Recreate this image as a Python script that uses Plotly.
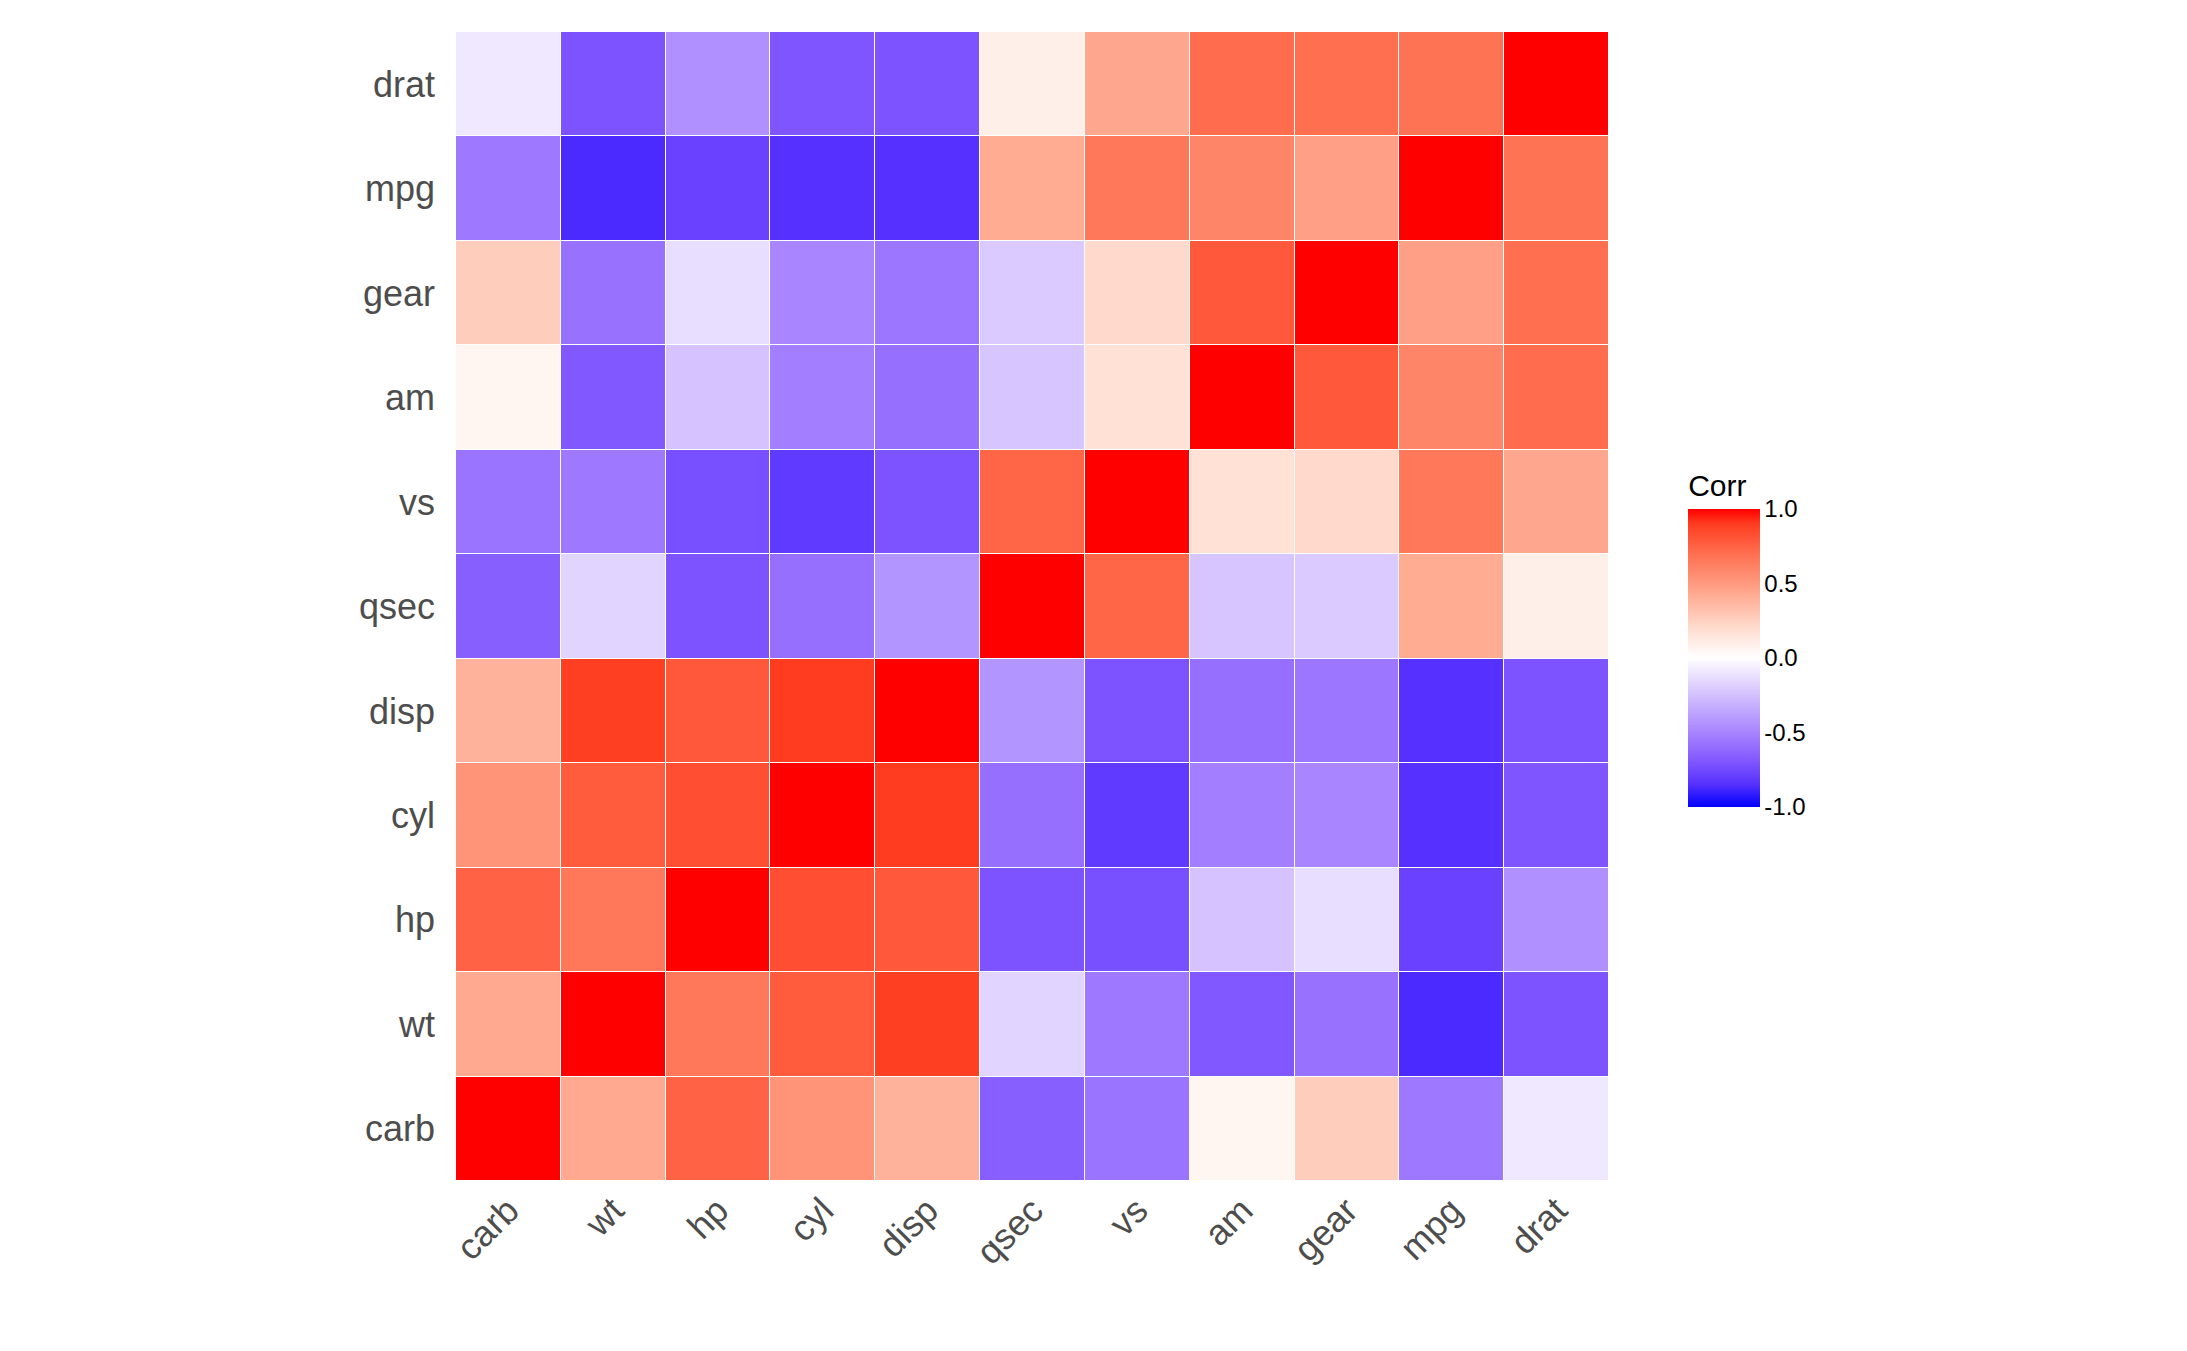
import plotly.graph_objects as go

# hierarchically ordered variables (mtcars)
vars_ = ['carb', 'wt', 'hp', 'cyl', 'disp', 'qsec', 'vs', 'am', 'gear', 'mpg', 'drat']

# correlation rows in the same order as vars_
carb = [1.00, 0.43, 0.75, 0.53, 0.39, -0.66, -0.57, 0.06, 0.27, -0.55, -0.09]
wt   = [0.43, 1.00, 0.66, 0.78, 0.89, -0.17, -0.55, -0.69, -0.58, -0.87, -0.71]
hp   = [0.75, 0.66, 1.00, 0.83, 0.79, -0.71, -0.72, -0.24, -0.13, -0.78, -0.45]
cyl  = [0.53, 0.78, 0.83, 1.00, 0.90, -0.59, -0.81, -0.52, -0.49, -0.85, -0.70]
disp = [0.39, 0.89, 0.79, 0.90, 1.00, -0.43, -0.71, -0.59, -0.56, -0.85, -0.71]
qsec = [-0.66, -0.17, -0.71, -0.59, -0.43, 1.00, 0.74, -0.23, -0.21, 0.42, 0.09]
vs   = [-0.57, -0.55, -0.72, -0.81, -0.71, 0.74, 1.00, 0.17, 0.21, 0.66, 0.44]
am   = [0.06, -0.69, -0.24, -0.52, -0.59, -0.23, 0.17, 1.00, 0.79, 0.60, 0.71]
gear = [0.27, -0.58, -0.13, -0.49, -0.56, -0.21, 0.21, 0.79, 1.00, 0.48, 0.70]
mpg  = [-0.55, -0.87, -0.78, -0.85, -0.85, 0.42, 0.66, 0.60, 0.48, 1.00, 0.68]
drat = [-0.09, -0.71, -0.45, -0.70, -0.71, 0.09, 0.44, 0.71, 0.70, 0.68, 1.00]

z = [carb, wt, hp, cyl, disp, qsec, vs, am, gear, mpg, drat]

cscale = [[0.0, '#0000FF'], [0.075, '#5530FF'], [0.15, '#7F55FF'], [0.225, '#9E78FF'],
          [0.4, '#DCCCFF'], [0.5, '#FFFFFF'], [0.6, '#FFDCCF'], [0.7, '#FFB098'],
          [0.85, '#FF6F50'], [0.95, '#FF3C20'], [1.0, '#FF0000']]

fig = go.Figure(go.Heatmap(
    x=vars_, y=vars_, z=z, zmin=-1, zmax=1, colorscale=cscale,
    xgap=1, ygap=1,
    colorbar=dict(title=dict(text='Corr', font=dict(size=30, color='#000')),
                  tickvals=[-1, -0.5, 0, 0.5, 1],
                  ticktext=['-1.0', '-0.5', '0.0', '0.5', '1.0'],
                  tickfont=dict(size=24, color='#000'),
                  len=0.31, lenmode='fraction', thickness=72,
                  x=1.06, xanchor='left', y=0.472, yanchor='middle',
                  outlinewidth=0, ticks='outside', ticklen=0),
))

fig.update_layout(
    width=2187, height=1351,
    plot_bgcolor='white', paper_bgcolor='white',
    margin=dict(l=448, r=586, t=24, b=178),
    font=dict(family='Liberation Sans, Arial, sans-serif'),
    xaxis=dict(tickangle=-45, tickfont=dict(size=36, color='#4D4D4D'),
               showgrid=False, ticks='', constrain='domain'),
    yaxis=dict(tickfont=dict(size=36, color='#4D4D4D'), showgrid=False,
               ticks='', ticksuffix='  '),
)

fig.write_html("out.html")
